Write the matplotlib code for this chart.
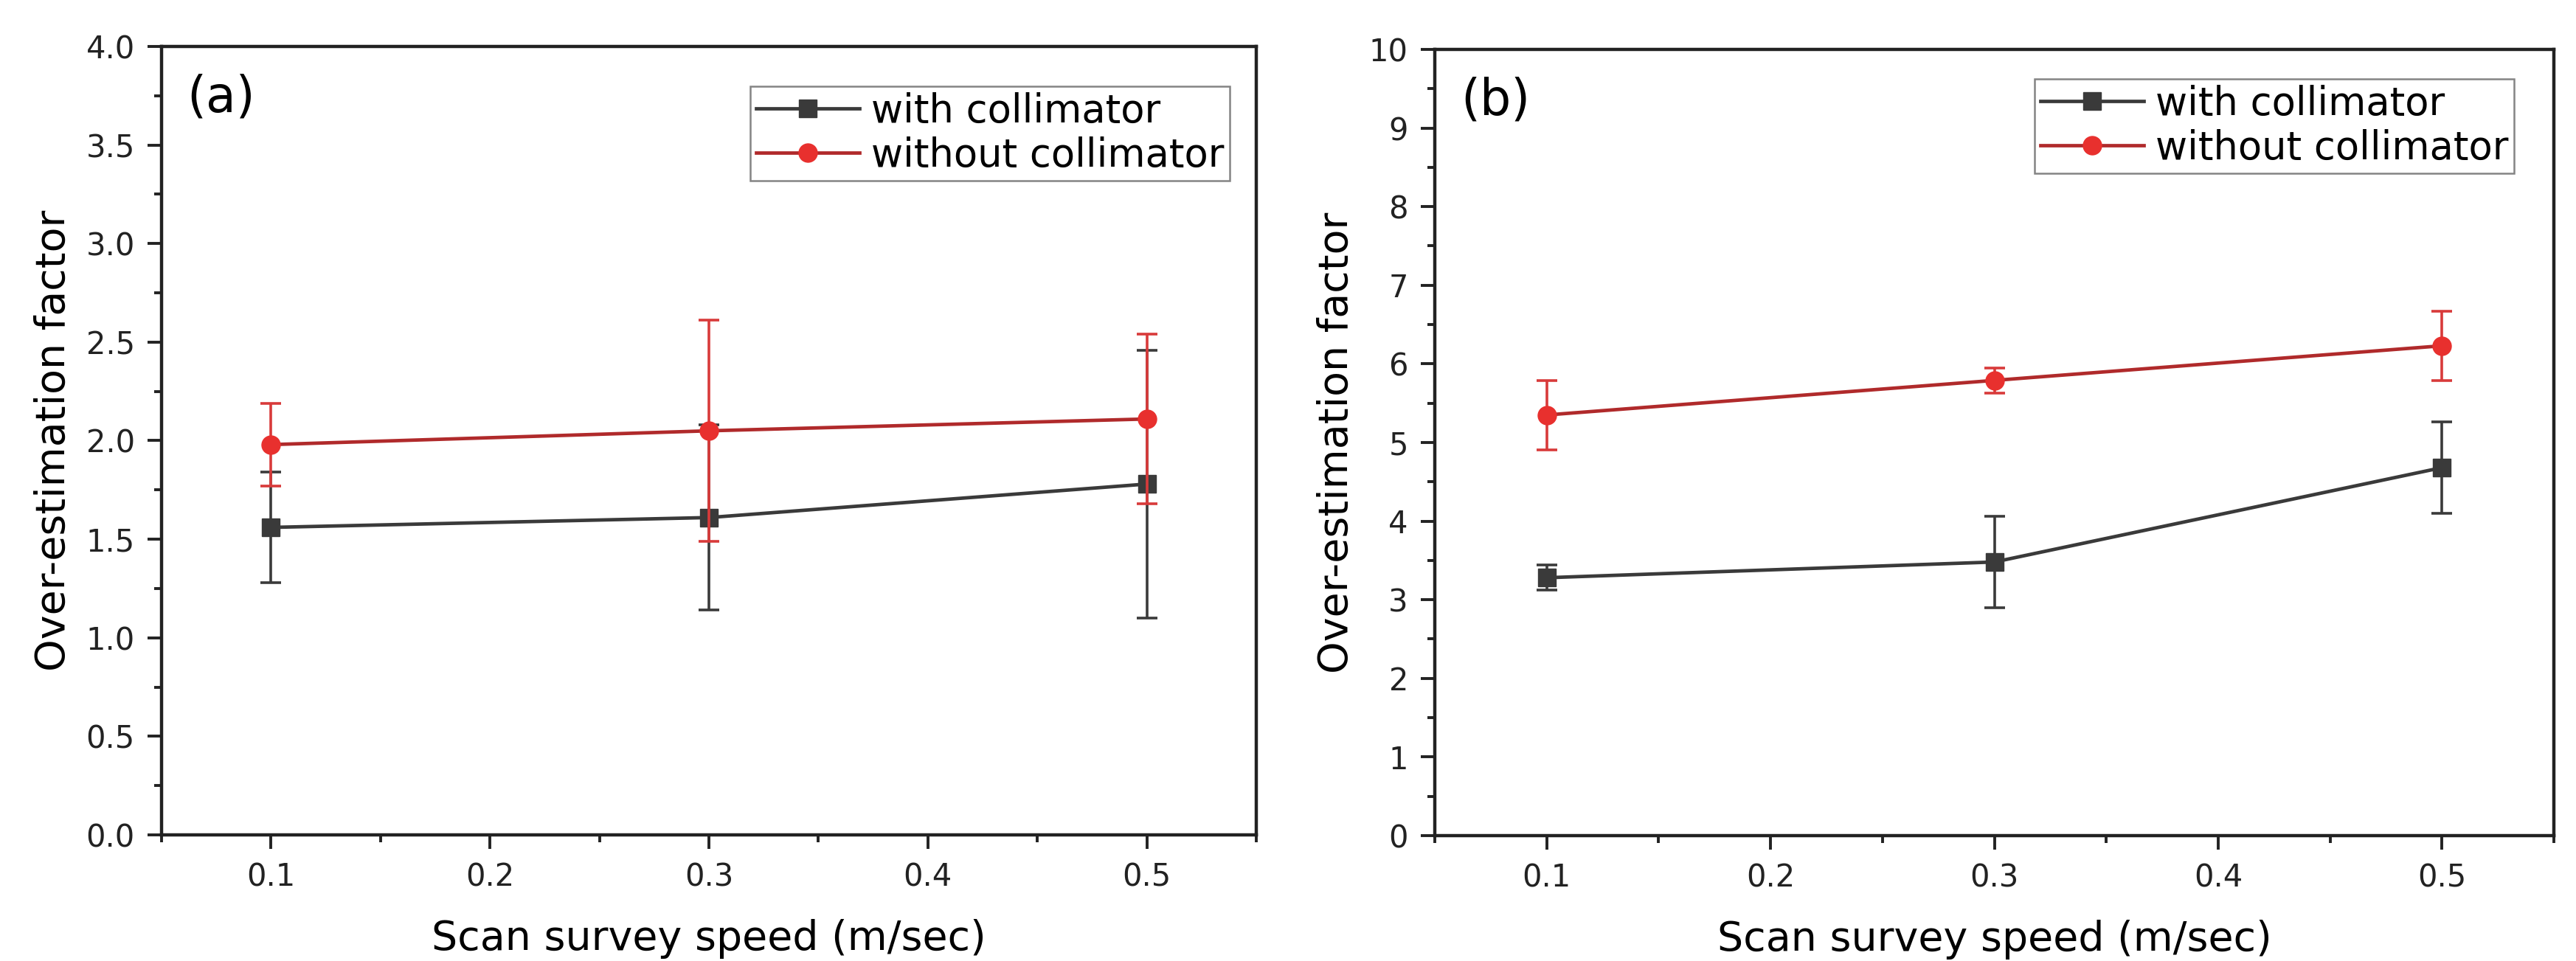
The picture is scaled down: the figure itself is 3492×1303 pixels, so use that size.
import matplotlib
matplotlib.use("Agg")
import matplotlib.pyplot as plt
from matplotlib.ticker import MultipleLocator, FormatStrFormatter

plt.rcParams["font.family"] = ["DejaVu Sans"]

# scan survey speed (m/sec)
speed = [0.1, 0.3, 0.5]

# panel (a)
a_with = [1.56, 1.61, 1.78]
a_with_err = [0.28, 0.47, 0.68]
a_without = [1.98, 2.05, 2.11]
a_without_err = [0.21, 0.56, 0.43]

# panel (b)
b_with = [3.28, 3.48, 4.68]
b_with_err = [0.16, 0.58, 0.58]
b_without = [5.35, 5.79, 6.23]
b_without_err = [0.44, 0.16, 0.44]

labels = ["with collimator", "without collimator"]
x_ticks = [0.1, 0.2, 0.3, 0.4, 0.5]

BLACK = "#3a3a3a"
RED_MK = "#e8302e"
RED_LN = "#b02a2b"
RED_EB = "#d83a3a"


def draw_panel(ax, y1, e1, y2, e2, ymax, ystep, fmt, tag, leg_anchor):
    eb1 = ax.errorbar(speed, y1, yerr=e1, color=BLACK, ecolor=BLACK, lw=3.4,
                      elinewidth=2.6, capsize=10, capthick=2.6, marker="s",
                      ms=17, mfc=BLACK, mec=BLACK, zorder=3)
    eb2 = ax.errorbar(speed, y2, yerr=e2, color=RED_LN, ecolor=RED_EB, lw=3.4,
                      elinewidth=2.6, capsize=10, capthick=2.6, marker="o",
                      ms=18, mfc=RED_MK, mec=RED_MK, zorder=4)

    ax.set_xlim(0.05, 0.55)
    ax.set_ylim(0, ymax)
    ax.set_xticks(x_ticks)
    ax.set_xticklabels([f"{v:.1f}" for v in x_ticks])
    ax.xaxis.set_minor_locator(MultipleLocator(0.05))
    ax.yaxis.set_major_locator(MultipleLocator(ystep))
    ax.yaxis.set_minor_locator(MultipleLocator(ystep / 2))
    ax.yaxis.set_major_formatter(FormatStrFormatter(fmt))

    ax.tick_params(which="both", direction="out", top=False, right=False,
                   color="#222222", labelcolor="#222222")
    ax.tick_params(which="major", length=14, width=2.8, labelsize=30, pad=12)
    ax.tick_params(which="minor", length=7, width=2.8)
    for sp in ax.spines.values():
        sp.set_linewidth(3.2)
        sp.set_color("#222222")

    ax.set_xlabel("Scan survey speed (m/sec)", fontsize=40, labelpad=26)
    ax.set_ylabel("Over-estimation factor", fontsize=40, labelpad=12)

    ax.text(0.023, 0.935, tag, transform=ax.transAxes, fontsize=48,
            ha="left", va="center")

    leg = ax.legend([eb1[0], eb2[0]], labels, loc="upper left",
                    bbox_to_anchor=leg_anchor, fontsize=38, frameon=True,
                    fancybox=False, borderpad=0.15, labelspacing=0.15,
                    handlelength=2.65, handletextpad=0.3, borderaxespad=0,
                    numpoints=1)
    leg.get_frame().set_edgecolor("#666666")
    leg.get_frame().set_linewidth(1.8)


fig = plt.figure(figsize=(34.92, 13.03), dpi=100)
ax_a = fig.add_axes([0.0627, 0.1312, 0.4250, 0.8205])
ax_b = fig.add_axes([0.5570, 0.1305, 0.4344, 0.8181])

draw_panel(ax_a, a_with, a_with_err, a_without, a_without_err,
           4.0, 0.5, "%.1f", "(a)", (0.538, 0.9495))
draw_panel(ax_b, b_with, b_with_err, b_without, b_without_err,
           10, 1, "%d", "(b)", (0.536, 0.9625))

fig.savefig("out.png", dpi=100)
